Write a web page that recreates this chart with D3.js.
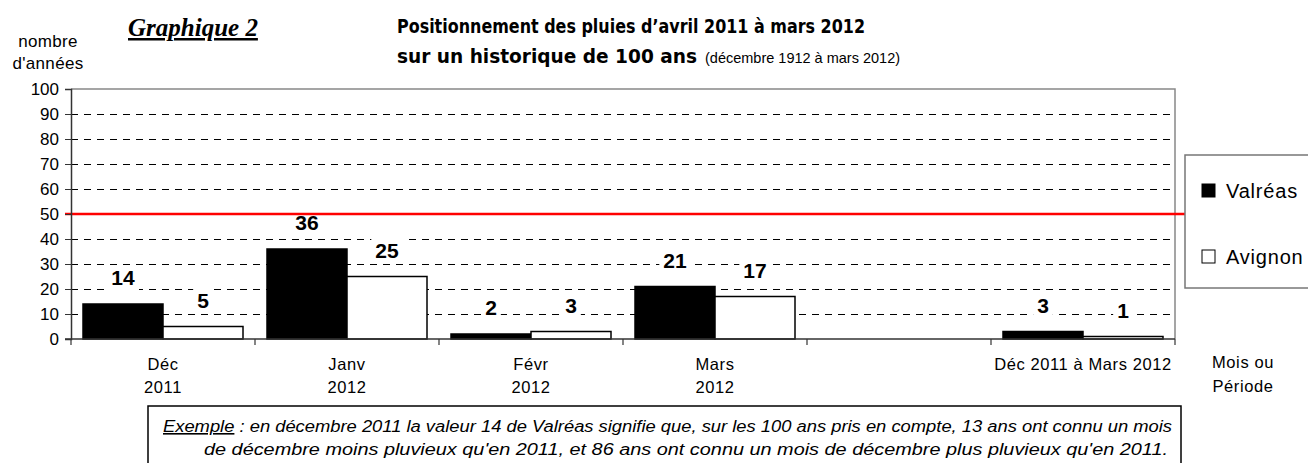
<!DOCTYPE html>
<html>
<head>
<meta charset="utf-8">
<script src="https://cdn.jsdelivr.net/npm/d3@7"></script>
<style>
  body { margin: 0; background: #fff; }
  svg { display: block; }
  text { font-family: "Liberation Sans", Arial, sans-serif; fill: #000; }
</style>
</head>
<body>
<svg width="1308" height="463"></svg>
<script>
// data
var categories = [["Déc", "2011"], ["Janv", "2012"], ["Févr", "2012"], ["Mars", "2012"], ["", ""], ["Déc 2011 à Mars 2012"]];
var valreas = [14, 36, 2, 21, null, 3];
var avignon = [5, 25, 3, 17, null, 1];
var yTicks = [0, 10, 20, 30, 40, 50, 60, 70, 80, 90, 100];
var seuil = 50;
var series = ["Valréas", "Avignon"];

var svg = d3.select("svg");
var plotLeft = 71, plotRight = 1175, plotTop = 89, plotBottom = 339;

var x = d3.scaleBand().domain(d3.range(categories.length)).range([plotLeft, plotRight]).paddingInner(0).paddingOuter(0);
var xs = d3.scaleBand().domain(series).range([12, x.bandwidth() - 12]);
var y = d3.scaleLinear().domain([0, 100]).range([plotBottom, plotTop]);

// grid
svg.append("g").selectAll("line")
  .data(yTicks.filter(function(d) { return d > 0 && d < 100; }))
  .enter().append("line")
  .attr("x1", plotLeft).attr("x2", plotRight)
  .attr("y1", function(d) { return Math.round(y(d)) + 0.5; }).attr("y2", function(d) { return Math.round(y(d)) + 0.5; })
  .attr("stroke", "#000").attr("stroke-width", 1)
  .attr("stroke-dasharray", "7,6");

// plot frame (top + right)
svg.append("path")
  .attr("d", "M" + plotLeft + "," + y(100) + "H" + plotRight + "V" + plotBottom)
  .attr("fill", "none").attr("stroke", "#888").attr("stroke-width", 1.5);

var barData = [];
categories.forEach(function(c, i) {
  if (valreas[i] != null) barData.push({i: i, s: "Valréas", v: valreas[i]});
  if (avignon[i] != null) barData.push({i: i, s: "Avignon", v: avignon[i]});
});

// bars
svg.append("g").selectAll("rect")
  .data(barData)
  .enter().append("rect")
  .attr("x", function(d) { return x(d.i) + xs(d.s); })
  .attr("y", function(d) { return y(d.v); })
  .attr("width", xs.bandwidth())
  .attr("height", function(d) { return y(0) - y(d.v); })
  .attr("fill", function(d) { return d.s == "Valréas" ? "#000" : "#fff"; })
  .attr("stroke", "#000").attr("stroke-width", 1.5);

// value labels with white background
var lab = svg.append("g").selectAll("g")
  .data(barData)
  .enter().append("g");
lab.append("rect").attr("fill", "#fff");
lab.append("text")
  .attr("x", function(d) { return x(d.i) + xs(d.s) + xs.bandwidth() / 2; })
  .attr("y", function(d) { return y(d.v) - 19; })
  .attr("text-anchor", "middle")
  .attr("font-size", 21).attr("font-weight", "bold")
  .text(function(d) { return d.v; });
lab.each(function() {
  var g = d3.select(this);
  var b = g.select("text").node().getBBox();
  g.select("rect").attr("x", b.x - 4).attr("y", b.y - 1).attr("width", b.width + 8).attr("height", b.height + 2);
});

// red 50 line
svg.append("line")
  .attr("x1", 65).attr("x2", 1185)
  .attr("y1", y(seuil)).attr("y2", y(seuil))
  .attr("stroke", "#ff0000").attr("stroke-width", 2.5);

// y axis
var yAxis = d3.axisLeft(y).tickValues(yTicks).tickSize(6).tickPadding(6);
var gy = svg.append("g").attr("transform", "translate(" + plotLeft + ",0)").call(yAxis);
gy.select(".domain").attr("stroke", "#333").attr("stroke-width", 1.5);
gy.selectAll(".tick line").attr("stroke", "#333");
gy.selectAll("text").attr("font-size", 17).attr("font-family", "Liberation Sans, Arial, sans-serif").attr("fill", "#000");

// x axis
svg.append("line").attr("x1", plotLeft - 6).attr("x2", plotRight).attr("y1", plotBottom).attr("y2", plotBottom)
  .attr("stroke", "#333").attr("stroke-width", 1.5);
svg.append("g").selectAll("line")
  .data(d3.range(categories.length + 1))
  .enter().append("line")
  .attr("x1", function(i) { return plotLeft + i * x.bandwidth(); })
  .attr("x2", function(i) { return plotLeft + i * x.bandwidth(); })
  .attr("y1", plotBottom).attr("y2", plotBottom + 6)
  .attr("stroke", "#333").attr("stroke-width", 1.2);

var xl = svg.append("g").selectAll("text")
  .data(categories)
  .enter().append("text")
  .attr("x", function(c, i) { return x(i) + x.bandwidth() / 2; })
  .attr("y", 370)
  .attr("text-anchor", "middle")
  .attr("font-size", 16.5).attr("letter-spacing", 0.6);
xl.selectAll("tspan")
  .data(function(c) { return c; })
  .enter().append("tspan")
  .attr("x", function() { return d3.select(this.parentNode).attr("x"); })
  .attr("dy", function(d, k) { return k ? 23 : 0; })
  .text(function(d) { return d; });

// axis titles
svg.append("text").attr("x", 48).attr("y", 47).attr("text-anchor", "middle").attr("font-size", 17).attr("letter-spacing", 0.3).text("nombre");
svg.append("text").attr("x", 48).attr("y", 69).attr("text-anchor", "middle").attr("font-size", 17).attr("letter-spacing", 0.3).text("d'années");
svg.append("text").attr("x", 1243).attr("y", 368).attr("text-anchor", "middle").attr("font-size", 16.5).attr("letter-spacing", 0.6).text("Mois ou");
svg.append("text").attr("x", 1243).attr("y", 392).attr("text-anchor", "middle").attr("font-size", 16.5).attr("letter-spacing", 0.6).text("Période");

// Graphique 2
svg.append("text").attr("x", 128).attr("y", 36)
  .style("font-family", "'Liberation Serif', serif")
  .attr("font-size", 25).attr("font-weight", "bold").attr("font-style", "italic")
  .attr("text-decoration", "underline")
  .text("Graphique 2");

// title
svg.append("text").attr("x", 397).attr("y", 33)
  .style("font-family", "'DejaVu Sans', sans-serif")
  .attr("font-size", 20).attr("font-weight", "bold")
  .attr("textLength", 468).attr("lengthAdjust", "spacingAndGlyphs")
  .text("Positionnement des pluies d’avril 2011 à mars 2012");
svg.append("text").attr("x", 397).attr("y", 63)
  .style("font-family", "'DejaVu Sans', sans-serif")
  .attr("font-size", 20).attr("font-weight", "bold")
  .attr("textLength", 300).attr("lengthAdjust", "spacingAndGlyphs")
  .text("sur un historique de 100 ans");
svg.append("text").attr("x", 705).attr("y", 63)
  .attr("font-size", 14.5)
  .text("(décembre 1912 à mars 2012)");

// legend
var lg = svg.append("g");
lg.append("rect").attr("x", 1185).attr("y", 155).attr("width", 140).attr("height", 133)
  .attr("fill", "#fff").attr("stroke", "#777").attr("stroke-width", 1.5);
var li = lg.selectAll("g").data(series).enter().append("g")
  .attr("transform", function(d, i) { return "translate(1202," + (190 + i * 66) + ")"; });
li.append("rect").attr("x", 0).attr("y", -6).attr("width", 13).attr("height", 13)
  .attr("fill", function(d) { return d == "Valréas" ? "#000" : "#fff"; })
  .attr("stroke", "#000").attr("stroke-width", 1);
li.append("text").attr("x", 24).attr("y", 8).attr("font-size", 20).attr("letter-spacing", 0.8).text(function(d) { return d; });

// note box
var nb = svg.append("g");
nb.append("rect").attr("x", 148).attr("y", 406).attr("width", 1033).attr("height", 70)
  .attr("fill", "#fff").attr("stroke", "#000").attr("stroke-width", 1.5);
var n1 = nb.append("text").attr("x", 163).attr("y", 432).attr("font-size", 16).attr("font-style", "italic")
  .attr("textLength", 1009).attr("lengthAdjust", "spacingAndGlyphs");
n1.append("tspan").attr("text-decoration", "underline").text("Exemple");
n1.append("tspan").text(" : en décembre 2011 la valeur 14 de Valréas signifie que, sur les 100 ans pris en compte, 13 ans ont connu un mois");
nb.append("text").attr("x", 204).attr("y", 455).attr("font-size", 16).attr("font-style", "italic")
  .attr("textLength", 964).attr("lengthAdjust", "spacingAndGlyphs")
  .text("de décembre moins pluvieux qu'en 2011, et 86 ans ont connu un mois de décembre plus pluvieux qu'en 2011.");
</script>
</body>
</html>
